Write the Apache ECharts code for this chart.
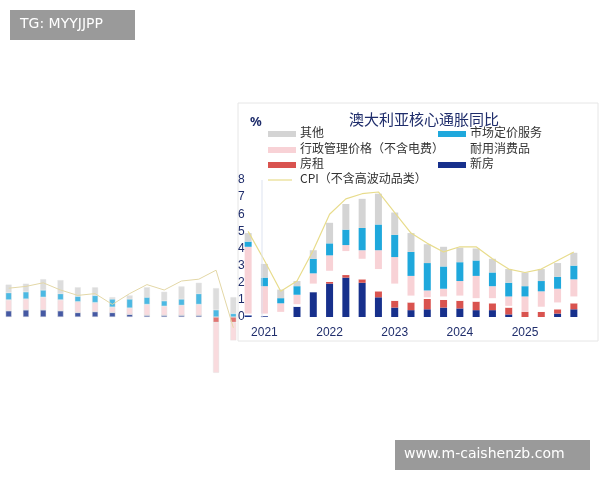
<!DOCTYPE html>
<html><head><meta charset="utf-8">
<script src="https://cdn.jsdelivr.net/npm/echarts@6/dist/echarts.min.js"></script>
<style>body{margin:0;background:#fff}#chart{width:600px;height:480px}</style>
</head><body><div id="chart"></div>
<script>
// main chart: 2020Q4 .. 2025Q4
const quarters = ['2020Q4','2021Q1','2021Q2','2021Q3','2021Q4','2022Q1','2022Q2','2022Q3','2022Q4',
  '2023Q1','2023Q2','2023Q3','2023Q4','2024Q1','2024Q2','2024Q3','2024Q4','2025Q1','2025Q2','2025Q3','2025Q4']
const xinfang = [0.1,0.05,0,0.6,1.45,1.95,2.3,2.0,1.15,0.55,0.4,0.45,0.55,0.5,0.4,0.4,0.15,-0.1,0,0.2,0.45]
const fangzu = [0,0,0,0,0,0.1,0.15,0.2,0.35,0.4,0.45,0.6,0.45,0.45,0.5,0.4,0.4,0.3,0.3,0.25,0.35]
const naiyong = [0.1,0.15,0.3,0.15,0.5,0.65,1.4,1.2,1.3,1.0,0.4,0.1,0.2,0.3,0.2,0.3,0.1,0,0.3,0.4,0.4]
const xingzheng = [3.9,1.6,0.5,0.55,0.6,0.9,0.35,0.5,1.1,1.55,1.15,0.4,0.45,0.85,1.3,0.7,0.55,0.9,0.9,0.8,1.0]
const shichang = [0.3,0.5,0.3,0.5,0.85,0.7,0.9,1.3,1.5,1.3,1.4,1.6,1.3,1.1,0.9,0.8,0.8,0.6,0.6,0.7,0.8]
const qita = [0.5,0.8,0.5,0.3,0.5,1.2,1.5,1.7,1.8,1.3,1.1,1.1,1.15,0.85,0.7,0.8,0.8,0.8,0.7,0.8,0.75]
const cpi = [5.0,3.3,1.5,2.1,3.9,6.0,6.9,7.2,7.3,6.1,4.9,4.3,3.8,4.1,4.1,3.4,2.8,2.6,2.8,3.3,3.8]
const yTicks = [0,1,2,3,4,5,6,7,8]

// faded earlier quarters on the left
const oldQuarters = ['a1','a2','a3','a4','a5','a6','a7','a8','a9','a10','a11','a12','a13','a14']
const oldXinfang = [0.35,0.4,0.4,0.35,0.25,0.3,0.25,0.15,0.1,0.1,0.1,0.1,0,0]
const oldFangzu = [0,0,0,0,0,0,0,0,0,0,0,0,-0.3,-0.3]
const oldXingzheng = [0.6,0.6,0.7,0.6,0.6,0.5,0.3,0.35,0.6,0.5,0.55,0.6,-2.8,-1.0]
const oldShichang = [0.4,0.4,0.4,0.35,0.3,0.4,0.45,0.5,0.4,0.3,0.35,0.6,0.4,0.2]
const oldQita = [0.45,0.45,0.6,0.75,0.5,0.45,0.1,0.2,0.55,0.5,0.7,0.6,1.2,0.9]
const oldCpi = [1.6,1.7,1.9,1.5,1.2,1.3,0.7,1.3,1.8,1.5,2.0,2.1,2.6,-0.6]

const names = ['新房','房租','耐用消费品','行政管理价格（不含电费）','市场定价服务','其他']
const colors = ['#17308c','#d9534f','#ffffff','#f8d2d6','#1fa8dc','#d4d4d4']

const chart = echarts.init(document.getElementById('chart'))

const mainSets = [xinfang,fangzu,naiyong,xingzheng,shichang,qita]
const oldSets = [oldXinfang,oldFangzu,null,oldXingzheng,oldShichang,oldQita]

const series = []
mainSets.forEach((d,i) => series.push({
  name: names[i], type:'bar', stack:'m', data:d, barWidth:7, z:5,
  itemStyle:{color:colors[i]}
}))
series.push({name:'CPI（不含高波动品类）', type:'line', data:cpi, symbol:'none', z:6,
  lineStyle:{color:'#e8dc8c', width:1.2}})
oldSets.forEach((d,i) => { if (!d) return; series.push({
  type:'bar', stack:'o', data:d, barWidth:6, xAxisIndex:1, yAxisIndex:1, z:1,
  itemStyle:{color:colors[i], opacity:0.8, borderColor:'#e0e0e0', borderWidth:0.5}
})})
series.push({type:'line', data:oldCpi, symbol:'none', xAxisIndex:1, yAxisIndex:1, z:2,
  lineStyle:{color:'#e3d7a6', width:1}})

// legend drawn as graphic
const legendItems = [
  ['其他',5,268,134],['行政管理价格（不含电费）',3,268,150],['房租',1,268,165],
  ['市场定价服务',4,438,134],['耐用消费品',2,438,150],['新房',0,438,165]
]
const graphic = [
  {type:'rect', shape:{x:238,y:103,width:360,height:238}, style:{fill:'#fff',stroke:'#e6e6e6'}, z:0, silent:true},
  {type:'text', left:349, top:112, style:{text:'澳大利亚核心通胀同比', font:'15px "Noto Sans CJK SC"', fill:'#1f2d6b'}, z:10},
  {type:'text', left:250, top:116, style:{text:'%', font:'bold 13px "Noto Sans"', fill:'#1f2d6b'}, z:10},
  {type:'line', shape:{x1:268,y1:180,x2:292,y2:180}, style:{stroke:'#e8dc8c',lineWidth:1.2}, z:10},
  {type:'text', left:300, top:172, style:{text:'CPI（不含高波动品类）', font:'12px "Noto Sans CJK SC"', fill:'#333'}, z:10},
  {type:'line', shape:{x1:262,y1:180,x2:262,y2:318}, style:{stroke:'#dde3f0',lineWidth:1}, z:10},
  {type:'rect', shape:{x:10,y:10,width:125,height:30}, style:{fill:'#9a9a9a'}, z:20},
  {type:'text', left:20, top:17, style:{text:'TG: MYYJJPP', font:'14px "DejaVu Sans"', fill:'#fff'}, z:21},
  {type:'rect', shape:{x:395,y:440,width:195,height:30}, style:{fill:'#9a9a9a'}, z:20},
  {type:'text', left:404, top:447, style:{text:'www.m-caishenzb.com', font:'14px "DejaVu Sans"', fill:'#fff'}, z:21}
]
legendItems.forEach(([t,ci,x,y]) => {
  if (ci !== 2) graphic.push({type:'rect', shape:{x:x,y:y-3,width:28,height:6}, style:{fill:colors[ci]}, z:10})
  graphic.push({type:'text', left:x+32, top:y-8, style:{text:t, font:'12px "Noto Sans CJK SC"', fill:'#333'}, z:10})
})

chart.setOption({
  animation:false,
  graphic: graphic,
  grid:[
    {left:240, top:180, width:342, height:137},
    {left:0, top:245, width:242, height:144}
  ],
  xAxis:[
    {type:'category', data:quarters, gridIndex:0, axisLine:{show:false}, axisTick:{show:false},
      axisLabel:{interval:0, color:'#1f2d6b', fontSize:12, margin:10,
        formatter:v => v.endsWith('Q1') ? v.slice(0,4) : ''}},
    {type:'category', data:oldQuarters, gridIndex:1, show:false}
  ],
  yAxis:[
    {type:'value', gridIndex:0, min:yTicks[0], max:yTicks[yTicks.length-1], interval:1, splitLine:{show:false},
      axisLabel:{inside:true, margin:-2, color:'#1f2d6b', fontSize:12}, axisLine:{show:false}, axisTick:{show:false}},
    {type:'value', gridIndex:1, min:-4, max:4, show:false, splitLine:{show:false}}
  ],
  series: series
})
</script></body></html>
